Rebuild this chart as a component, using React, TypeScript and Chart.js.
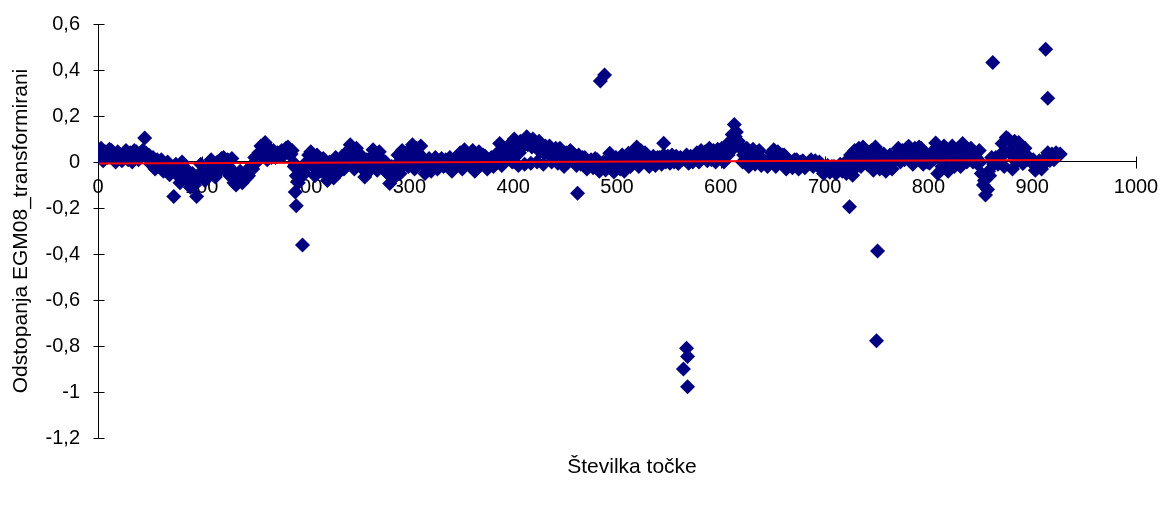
import { useEffect, useRef } from 'react';
import { Chart, registerables } from 'chart.js';

Chart.register(...registerables);

// Point numbers of the band edges: FIRST_POINT, FIRST_POINT + POINT_STEP, ...
const FIRST_POINT = 1;
const POINT_STEP = 2;

const deviations: number[] = [
  0.035, 0.06, 0.005, 0.045, 0.02, 0.055,
  0.05, 0.02, 0.0, 0.045, 0.025, 0.005,
  0.035, 0.05, 0.01, 0.04, 0.0, 0.05,
  0.045, 0.01, 0.03, 0.05, 0.104, 0.02,
  0.03, -0.01, 0.02, -0.03, 0.01, -0.02,
  0.01, -0.04, -0.02, 0.0, -0.055, -0.03,
  -0.15, -0.01, -0.06, -0.09, 0.0, -0.04,
  -0.03, -0.08, -0.11, -0.05, -0.1, -0.15,
  -0.07, -0.01, -0.05, -0.08, -0.02, -0.04,
  0.01, -0.03, -0.065, 0.0, -0.04, 0.015,
  0.02, -0.03, 0.01, -0.06, 0.015, -0.09,
  -0.1, -0.06, -0.04, -0.09, -0.05, -0.07,
  -0.06, -0.02, -0.03, 0.02, 0.0, 0.04,
  0.07, 0.03, 0.085, 0.01, 0.06, 0.02,
  0.05, 0.02, 0.04, 0.025, 0.05, 0.03,
  0.06, 0.065, 0.03, 0.05, -0.02, -0.06,
  -0.09, -0.06, -0.03, -0.05, 0.0, 0.03,
  0.045, -0.02, -0.06, 0.03, 0.01, -0.04,
  0.015, -0.05, -0.08, 0.0, -0.03, -0.07,
  0.02, -0.05, -0.01, 0.024, -0.03, 0.0,
  0.05, 0.075, 0.02, -0.03, 0.06, 0.0,
  0.03, -0.03, -0.065, 0.01, -0.04, 0.02,
  0.053, 0.0, -0.036, 0.045, 0.01, -0.02,
  0.0, -0.05, -0.094, -0.02, -0.07, -0.03,
  0.03, -0.05, 0.05, -0.01, 0.04, -0.02,
  0.05, 0.075, -0.03, 0.06, 0.0, 0.07,
  0.02, -0.05, -0.01, 0.015, -0.04, 0.0,
  0.02, -0.03, 0.0, 0.015, -0.02, 0.01,
  0.0, 0.02, -0.04, 0.01, -0.02, 0.025,
  0.04, -0.03, 0.053, 0.0, 0.03, -0.02,
  0.05, -0.04, 0.02, 0.045, -0.01, 0.03,
  0.025, -0.03, 0.0, 0.02, -0.02, 0.01,
  0.04, 0.08, -0.015, 0.06, 0.01, 0.07,
  0.07, 0.0, 0.1, 0.03, -0.015, 0.09,
  0.08, -0.01, 0.11, 0.09, -0.005, 0.1,
  0.08, 0.0, 0.09, 0.05, -0.01, 0.07,
  0.04, 0.07, 0.0, 0.03, 0.06, -0.005,
  0.06, 0.02, -0.02, 0.04, 0.0, 0.05,
  0.04, 0.0, -0.015, 0.03, -0.01, 0.02,
  0.02, -0.03, 0.0, 0.01, -0.025, 0.015,
  0.01, -0.04, -0.01, 0.0, -0.035, 0.005,
  0.038, -0.02, -0.043, 0.02, 0.0, -0.03,
  0.03, -0.04, 0.0, 0.038, -0.02, 0.02,
  0.03, 0.065, -0.02, 0.05, 0.0, 0.04,
  0.03, -0.02, 0.01, 0.025, -0.015, 0.02,
  0.02, -0.01, 0.03, 0.0, 0.025, -0.005,
  0.03, 0.0, 0.025, -0.007, 0.02, 0.01,
  0.015, 0.03, -0.005, 0.025, 0.0, 0.02,
  0.04, 0.0, 0.05, 0.02, 0.045, 0.005,
  0.06, 0.01, 0.05, 0.0, 0.055, 0.02,
  0.06, 0.0, 0.07, 0.03, 0.09, 0.12,
  0.163, 0.13, 0.09, 0.06, 0.0, 0.05,
  0.06, -0.02, 0.02, 0.055, -0.01, 0.04,
  0.05, -0.015, 0.01, 0.0, -0.02, 0.01,
  0.04, 0.053, -0.02, 0.045, 0.0, 0.03,
  0.03, -0.03, 0.01, 0.0, -0.025, 0.01,
  0.01, -0.03, 0.0, 0.005, -0.025, -0.01,
  0.0, 0.01, -0.02, 0.005, -0.015, 0.0,
  -0.01, -0.05, -0.03, -0.015, -0.045, -0.02,
  -0.02, -0.05, -0.03, -0.01, -0.04, -0.005,
  -0.05, 0.0, 0.03, -0.058, 0.05, -0.02,
  0.06, -0.02, 0.065, 0.02, -0.01, 0.04,
  0.05, -0.036, 0.065, 0.0, -0.03, 0.03,
  0.035, -0.04, 0.0, 0.03, -0.03, 0.01,
  0.03, 0.06, 0.0, 0.05, 0.01, 0.06,
  0.068, 0.01, -0.01, 0.06, 0.02, 0.065,
  0.06, -0.01, 0.03, 0.0, -0.005, 0.01,
  0.05, 0.083, -0.05, 0.06, -0.02, 0.07,
  0.06, -0.04, 0.02, 0.07, -0.02, 0.04,
  0.06, -0.02, 0.08, 0.03, 0.0, 0.05,
  0.06, 0.0, 0.04, -0.007, 0.05, -0.05,
  -0.1, -0.143, -0.12, -0.06, 0.02, -0.01,
  0.02, -0.01, 0.03, 0.08, -0.02, 0.107,
  0.1, 0.05, -0.03, 0.09, 0.0, 0.085,
  0.025, -0.006, 0.06, 0.01, 0.02, 0.0,
  0.01, -0.036, -0.01, 0.005, -0.03, 0.0,
  0.02, 0.04, 0.006, 0.035, 0.01, 0.04,
  0.03, 0.035,
];

// Points inside the band: MID_FIRST_POINT, MID_FIRST_POINT + MID_STEP, ...
const MID_FIRST_POINT = 2;
const MID_STEP = 4;
const midDeviations: number[] = [
  0.03, 0.025, 0.035, 0.025, 0.03, 0.02, 0.025, 0.03, 0.025, 0.03, 0.035, 0.04,
  0.01, 0.0, -0.005, -0.015, -0.02, -0.03, -0.035, -0.045, -0.04, -0.06, -0.07, -0.07,
  -0.05, -0.045, -0.04, -0.025, -0.02, -0.015, -0.01, -0.02, -0.04, -0.07, -0.075, -0.06,
  -0.04, -0.01, 0.02, 0.045, 0.045, 0.04, 0.035, 0.035, 0.04, 0.045, 0.035, -0.01,
  -0.06, -0.03, -0.01, 0.0, -0.01, -0.01, -0.03, -0.035, -0.04, -0.015, -0.01, -0.015,
  0.03, 0.025, 0.02, -0.015, -0.02, -0.01, 0.01, 0.015, 0.01, -0.045, -0.045, -0.04,
  0.0, 0.005, 0.01, 0.03, 0.025, 0.03, -0.015, -0.02, -0.015, -0.005, 0.0, -0.005,
  -0.01, -0.005, 0.0, 0.01, 0.015, 0.01, 0.005, 0.01, 0.01, 0.0, -0.005, 0.0,
  0.03, 0.035, 0.035, 0.045, 0.05, 0.04, 0.07, 0.075, 0.065, 0.065, 0.045, 0.04,
  0.035, 0.03, 0.035, 0.02, 0.02, 0.025, 0.012, 0.01, 0.015, -0.005, 0.0, -0.005,
  -0.015, -0.015, -0.01, 0.0, -0.01, -0.005, 0.0, 0.005, 0.0, 0.02, 0.025, 0.02,
  0.005, 0.01, 0.005, 0.01, 0.01, 0.01, 0.012, 0.01, 0.015, 0.01, 0.012, 0.01,
  0.025, 0.02, 0.025, 0.03, 0.03, 0.035, 0.03, 0.04, 0.05, 0.11, 0.07, 0.03,
  0.02, 0.02, 0.015, 0.02, 0.0, -0.005, 0.015, 0.02, 0.015, 0.0, -0.005, -0.01,
  -0.01, -0.01, -0.015, -0.005, -0.005, -0.01, -0.03, -0.03, -0.03, -0.03, -0.025, -0.02,
  -0.02, 0.0, 0.01, 0.02, 0.025, 0.02, 0.015, 0.015, 0.01, 0.0, -0.005, 0.0,
  0.03, 0.03, 0.035, 0.03, 0.035, 0.03, 0.03, 0.015, 0.005, 0.015, 0.02, 0.025,
  0.015, 0.02, 0.01, 0.025, 0.03, 0.025, 0.03, 0.02, 0.0, -0.08, -0.04, 0.0,
  0.01, 0.03, 0.04, 0.04, 0.035, 0.04, 0.015, 0.02, 0.01, -0.012, -0.01, -0.015,
  0.022, 0.02, 0.025, 0.03,
];

// Isolated points
const outlierPoints = [190, 191, 197, 462, 484, 488, 545, 564, 567, 568, 568, 724, 751, 750, 862, 913, 915];
const outlierDeviations = [-0.13, -0.19, -0.361, -0.136, 0.352, 0.378, 0.081, -0.9, -0.81, -0.846, -0.977, -0.195, -0.387, -0.777, 0.433, 0.49, 0.277];

// Linear trend
const trendPoints = [1, 927];
const trendDeviations = [-0.007, 0.009];

const yTickLabels = ['-1,2', '-1', '-0,8', '-0,6', '-0,4', '-0,2', '0', '0,2', '0,4', '0,6'];

const X_TITLE = 'Številka točke';
const Y_TITLE = 'Odstopanja EGM08_transformirani';

const FONT = '"Liberation Sans", Arial, sans-serif';
const NAVY = '#000080';

const crossTicks = {
  id: 'crossTicks',
  beforeDatasetsDraw(chart: any) {
    const { ctx, scales } = chart;
    const x = scales.x;
    const y = scales.y;
    const y0 = Math.round(y.getPixelForValue(0)) + 0.5;
    const xl = Math.round(x.left) + 0.5;
    ctx.save();
    ctx.strokeStyle = '#000';
    ctx.lineWidth = 1;
    ctx.beginPath();
    x.ticks.forEach((t: any) => {
      if (t.value === 0) return;
      const px = Math.round(x.getPixelForValue(t.value)) + 0.5;
      ctx.moveTo(px, y0 - 6);
      ctx.lineTo(px, y0 + 6);
    });
    y.ticks.forEach((t: any) => {
      const py = Math.round(y.getPixelForValue(t.value)) + 0.5;
      ctx.moveTo(xl - 5, py);
      ctx.lineTo(xl + 6, py);
    });
    ctx.stroke();
    ctx.restore();
  },
};

const xTitlePlugin = {
  id: 'xTitle',
  afterDraw(chart: any) {
    const { ctx } = chart;
    ctx.save();
    ctx.fillStyle = '#000';
    ctx.font = `21px ${FONT}`;
    ctx.textAlign = 'center';
    ctx.textBaseline = 'middle';
    ctx.fillText(X_TITLE, 632, 467);
    ctx.restore();
  },
};

export default function App() {
  const canvasRef = useRef<HTMLCanvasElement | null>(null);

  useEffect(() => {
    if (!canvasRef.current) return;
    const bandData = deviations.map((v, i) => ({ x: FIRST_POINT + i * POINT_STEP, y: v }));
    const midData = midDeviations.map((v, i) => ({ x: MID_FIRST_POINT + i * MID_STEP, y: v }));
    const outlierData = outlierPoints.map((p, i) => ({ x: p, y: outlierDeviations[i] }));
    const trendData = trendPoints.map((p, i) => ({ x: p, y: trendDeviations[i] }));

    const chart = new Chart(canvasRef.current, {
      type: 'scatter',
      data: {
        datasets: [
          {
            type: 'line',
            label: 'trend',
            data: trendData,
            borderColor: '#ff0000',
            borderWidth: 2,
            pointRadius: 0,
            fill: false,
            order: 0,
          } as any,
          {
            label: 'Odstopanja',
            data: [...bandData, ...midData, ...outlierData],
            pointStyle: 'rectRot',
            pointRadius: 7.5,
            pointHoverRadius: 7.5,
            backgroundColor: NAVY,
            borderColor: NAVY,
            borderWidth: 0,
            order: 1,
          },
        ],
      },
      options: {
        animation: false,
        responsive: true,
        maintainAspectRatio: false,
        layout: { padding: { left: 0, right: 26, top: 24, bottom: 69 } },
        plugins: {
          legend: { display: false },
          tooltip: { enabled: false },
        },
        scales: {
          x: {
            type: 'linear',
            position: { y: 0 } as any,
            min: 0,
            max: 1000,
            ticks: {
              stepSize: 100,
              padding: 2,
              color: '#000',
              font: { family: FONT, size: 20 },
              maxRotation: 0,
              autoSkip: false,
              callback: (v: any) => String(v),
            },
            grid: { display: false, drawTicks: true, tickLength: 11 },
            border: { display: true, color: '#000', width: 1 },
          },
          y: {
            type: 'linear',
            position: 'left',
            min: -1.2,
            max: 0.6,
            ticks: {
              stepSize: 0.2,
              padding: 4,
              color: '#000',
              font: { family: FONT, size: 20 },
              callback: (_v: any, i: number) => yTickLabels[i],
            },
            grid: { display: false, drawTicks: true, tickLength: 14 },
            border: { display: true, color: '#000', width: 1 },
            title: {
              display: true,
              text: Y_TITLE,
              color: '#000',
              font: { family: FONT, size: 21 },
              padding: { top: 9, bottom: 0 },
            },
            afterFit: (scale: any) => {
              scale.width = 98;
            },
          },
        },
      },
      plugins: [crossTicks, xTitlePlugin],
    });
    return () => chart.destroy();
  }, []);

  return (
    <div style={{ position: 'fixed', left: 0, top: 0, width: 1162, height: 507, background: '#fff' }}>
      <canvas ref={canvasRef} />
    </div>
  );
}
